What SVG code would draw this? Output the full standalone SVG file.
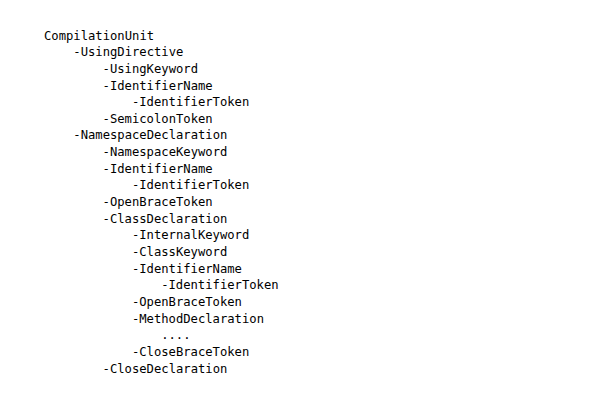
<svg xmlns="http://www.w3.org/2000/svg" width="600" height="400" viewBox="0 0 600 400">
<style>
text{font-family:"DejaVu Sans Mono","Liberation Mono",monospace;font-size:12.2px;fill:#000}
</style>
<rect width="600" height="400" fill="#fff"/>
<g id="tree">
<text x="44" y="39.5">CompilationUnit</text>
<text x="73.3" y="56.2">-UsingDirective</text>
<text x="102.6" y="72.8">-UsingKeyword</text>
<text x="102.6" y="89.5">-IdentifierName</text>
<text x="131.9" y="106.1">-IdentifierToken</text>
<text x="102.6" y="122.8">-SemicolonToken</text>
<text x="73.3" y="139.4">-NamespaceDeclaration</text>
<text x="102.6" y="156.1">-NamespaceKeyword</text>
<text x="102.6" y="172.7">-IdentifierName</text>
<text x="131.9" y="189.4">-IdentifierToken</text>
<text x="102.6" y="206">-OpenBraceToken</text>
<text x="102.6" y="222.7">-ClassDeclaration</text>
<text x="131.9" y="239.3">-InternalKeyword</text>
<text x="131.9" y="256">-ClassKeyword</text>
<text x="131.9" y="272.6">-IdentifierName</text>
<text x="161.2" y="289.3">-IdentifierToken</text>
<text x="131.9" y="305.9">-OpenBraceToken</text>
<text x="131.9" y="322.6">-MethodDeclaration</text>
<text x="161.2" y="339.2">....</text>
<text x="131.9" y="355.9">-CloseBraceToken</text>
<text x="102.6" y="372.5">-CloseDeclaration</text>
</g>
</svg>
